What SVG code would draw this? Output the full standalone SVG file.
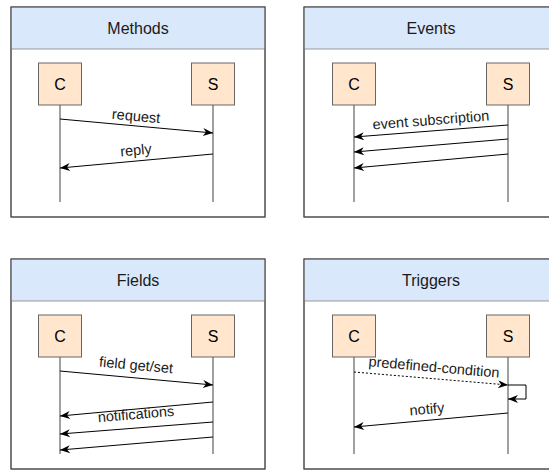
<svg xmlns="http://www.w3.org/2000/svg" width="549" height="470" viewBox="0 0 549 470">
<style>
.panel{fill:#ffffff;stroke:#4d4d4d;stroke-width:1}
.hdr{fill:#dae8fc;stroke:none}
.hline{stroke:#999999;stroke-width:1}
.title{font-family:"Liberation Sans",Arial,sans-serif;font-size:16px;fill:#1a1a1a;text-anchor:middle}
.actor{fill:#ffe6cc;stroke:#666666;stroke-width:1}
.al{font-family:"Liberation Sans",Arial,sans-serif;font-size:16px;fill:#000;text-anchor:middle}
.life{stroke:#808080;stroke-width:1.5}
.msg{stroke:#000;stroke-width:1;fill:none;marker-end:url(#arr)}
.dash{stroke-dasharray:2,2}
.lbl{font-family:"Liberation Sans",Arial,sans-serif;font-size:14.5px;fill:#1a1a1a;text-anchor:middle}
</style>
<defs>
<marker id="arr" markerUnits="userSpaceOnUse" markerWidth="12" markerHeight="10" refX="10" refY="4" orient="auto" overflow="visible">
<path d="M0,0 L10,4 L0,8 L3,4 Z" fill="#000"/>
</marker>
</defs>
<g id="methods">
<rect class="panel" x="11" y="7" width="254" height="210"/>
<rect class="hdr" x="11.5" y="7.5" width="253" height="41.5"/>
<line class="hline" x1="11" y1="49" x2="265" y2="49"/>
<rect class="panel" x="11" y="7" width="254" height="210" style="fill:none"/>
<text class="title" x="138" y="34">Methods</text>
<line class="life" x1="60" y1="105" x2="60" y2="202"/>
<line class="life" x1="213" y1="105" x2="213" y2="202"/>
<rect class="actor" x="38.5" y="63" width="43" height="42"/>
<text class="al" x="60" y="89.5">C</text>
<rect class="actor" x="191.5" y="63" width="43" height="42"/>
<text class="al" x="213" y="89.5">S</text>
</g>
<g id="events">
<rect class="panel" x="304" y="7" width="254" height="210"/>
<rect class="hdr" x="304.5" y="7.5" width="253" height="41.5"/>
<line class="hline" x1="304" y1="49" x2="558" y2="49"/>
<rect class="panel" x="304" y="7" width="254" height="210" style="fill:none"/>
<text class="title" x="431" y="34">Events</text>
<line class="life" x1="354" y1="105" x2="354" y2="202"/>
<line class="life" x1="508" y1="105" x2="508" y2="202"/>
<rect class="actor" x="332.5" y="63" width="43" height="42"/>
<text class="al" x="354" y="89.5">C</text>
<rect class="actor" x="486.5" y="63" width="43" height="42"/>
<text class="al" x="508" y="89.5">S</text>
</g>
<g id="fields">
<rect class="panel" x="11" y="259" width="254" height="210"/>
<rect class="hdr" x="11.5" y="259.5" width="253" height="41.5"/>
<line class="hline" x1="11" y1="301" x2="265" y2="301"/>
<rect class="panel" x="11" y="259" width="254" height="210" style="fill:none"/>
<text class="title" x="138" y="286">Fields</text>
<line class="life" x1="60" y1="357" x2="60" y2="454"/>
<line class="life" x1="213" y1="357" x2="213" y2="454"/>
<rect class="actor" x="38.5" y="315" width="43" height="42"/>
<text class="al" x="60" y="341.5">C</text>
<rect class="actor" x="191.5" y="315" width="43" height="42"/>
<text class="al" x="213" y="341.5">S</text>
</g>
<g id="triggers">
<rect class="panel" x="304" y="259" width="254" height="210"/>
<rect class="hdr" x="304.5" y="259.5" width="253" height="41.5"/>
<line class="hline" x1="304" y1="301" x2="558" y2="301"/>
<rect class="panel" x="304" y="259" width="254" height="210" style="fill:none"/>
<text class="title" x="431" y="286">Triggers</text>
<line class="life" x1="354" y1="357" x2="354" y2="454"/>
<line class="life" x1="508" y1="357" x2="508" y2="454"/>
<rect class="actor" x="332.5" y="315" width="43" height="42"/>
<text class="al" x="354" y="341.5">C</text>
<rect class="actor" x="486.5" y="315" width="43" height="42"/>
<text class="al" x="508" y="341.5">S</text>
</g>
<g id="connectors">
<line class="msg" x1="60" y1="119" x2="213" y2="133"/>
<text class="lbl" x="136" y="121" transform="rotate(5.2 136 117)">request</text>
<line class="msg" x1="213" y1="154" x2="60" y2="168"/>
<text class="lbl" x="136" y="155" transform="rotate(-5.2 136 151)">reply</text>

<line class="msg" x1="508" y1="125" x2="354" y2="137"/>
<line class="msg" x1="508" y1="139" x2="354" y2="152"/>
<line class="msg" x1="508" y1="154" x2="354" y2="168"/>
<text class="lbl" x="431" y="125" transform="rotate(-4.5 431 121)">event subscription</text>

<line class="msg" x1="60" y1="371" x2="213" y2="385"/>
<text class="lbl" x="136" y="370" transform="rotate(5.2 136 366)">field get/set</text>
<line class="msg" x1="213" y1="402" x2="60" y2="416"/>
<line class="msg" x1="213" y1="422" x2="60" y2="434"/>
<line class="msg" x1="213" y1="437" x2="60" y2="450"/>
<text class="lbl" x="136" y="419" transform="rotate(-4.8 136 415)">notifications</text>

<line class="msg dash" x1="354" y1="372" x2="508" y2="385"/>
<text class="lbl" x="434" y="372" transform="rotate(5 434 368)">predefined-condition</text>
<polyline class="msg" points="508,385 526,385 526,399 508,399"/>
<line class="msg" x1="508" y1="413" x2="354" y2="427"/>
<text class="lbl" x="427" y="414" transform="rotate(-5.2 427 410)">notify</text>
</g>
</svg>
